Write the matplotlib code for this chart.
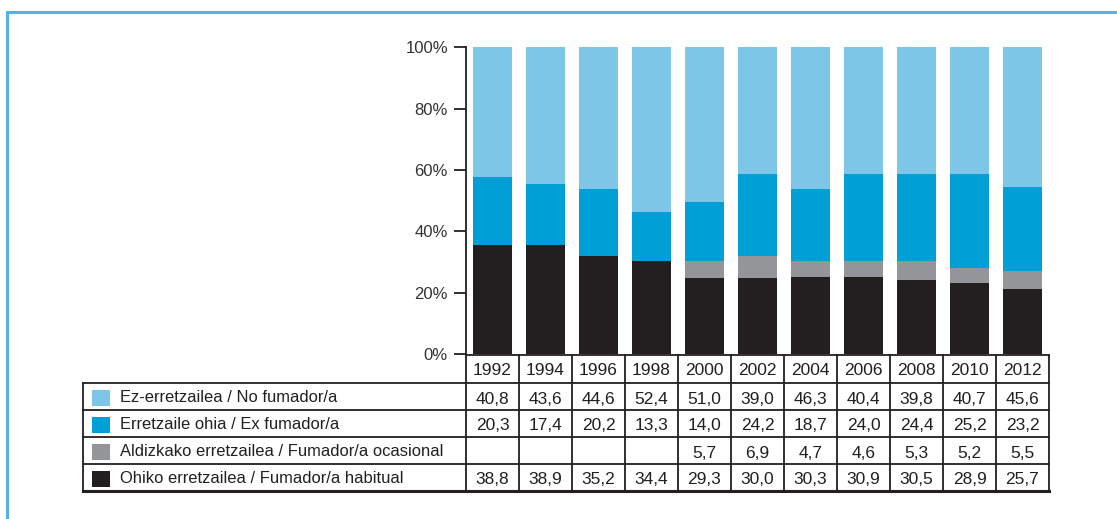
import numpy as np
import matplotlib
matplotlib.use("Agg")
import matplotlib.pyplot as plt
from matplotlib.patches import Rectangle

# years / table values (as printed in the table)
years = ["1992", "1994", "1996", "1998", "2000", "2002", "2004", "2006", "2008", "2010", "2012"]
no_fumador = ["40,8", "43,6", "44,6", "52,4", "51,0", "39,0", "46,3", "40,4", "39,8", "40,7", "45,6"]
ex_fumador = ["20,3", "17,4", "20,2", "13,3", "14,0", "24,2", "18,7", "24,0", "24,4", "25,2", "23,2"]
ocasional = ["", "", "", "", "5,7", "6,9", "4,7", "4,6", "5,3", "5,2", "5,5"]
habitual = ["38,8", "38,9", "35,2", "34,4", "29,3", "30,0", "30,3", "30,9", "30,5", "28,9", "25,7"]

# bar segment heights as drawn in the picture (%)
bar_habitual = [35.5, 35.5, 32.0, 30.2, 24.7, 24.7, 25.2, 25.2, 24.1, 23.0, 21.2]
bar_ocasional = [0.0, 0.0, 0.0, 0.0, 5.5, 7.3, 5.0, 5.0, 6.1, 5.2, 6.0]
bar_ex = [22.3, 19.9, 21.7, 16.2, 19.2, 26.6, 23.5, 28.4, 28.4, 30.4, 27.1]

labels = ["Ez-erretzailea / No fumador/a",
          "Erretzaile ohia / Ex fumador/a",
          "Aldizkako erretzailea / Fumador/a ocasional",
          "Ohiko erretzailea / Fumador/a habitual"]
colors = ["#7dc6e7", "#00a0d6", "#939598", "#231f20"]

W, H = 1117, 519
fig = plt.figure(figsize=(W / 100, H / 100), dpi=100)

# layout in pixels
x0, col_w = 466, 53.0
x_right = x0 + col_w * len(years)
y_zero, y_full = 354, 47.3
lab_left = 83
row_edges = [355, 383, 410, 437, 464, 491]

font = ["Liberation Sans", "DejaVu Sans"]
ink = "#231f20"

# bar chart
ax = fig.add_axes([x0 / W, 1 - y_zero / H, (x_right - x0) / W, (y_zero - y_full) / H])
xs = np.arange(len(years))
bar_no = 100 - np.array(bar_habitual) - np.array(bar_ocasional) - np.array(bar_ex)
bottom = np.zeros(len(years))
for vals, c in zip([bar_habitual, bar_ocasional, bar_ex, bar_no], colors[::-1]):
    ax.bar(xs, vals, bottom=bottom, width=0.72, color=c, linewidth=0)
    bottom += np.array(vals)
ax.set_xlim(-0.5, len(years) - 0.5)
ax.set_ylim(0, 100)
ax.set_yticks(range(0, 101, 20))
ax.set_yticklabels([f"{v}%" for v in range(0, 101, 20)], family=font, fontsize=12, color="#333333")
ax.set_xticks([])
for s in ["top", "right", "bottom"]:
    ax.spines[s].set_visible(False)
ax.spines["left"].set_linewidth(1.3)
ax.spines["left"].set_color(ink)
ax.tick_params(axis="y", length=9, width=1.3, color=ink, pad=4)

# overlay in pixel coordinates for table and frame
ov = fig.add_axes([0, 0, 1, 1], zorder=5)
ov.set_xlim(0, W)
ov.set_ylim(H, 0)
ov.axis("off")
ov.patch.set_alpha(0)

# outer frame
ov.plot([7, 7, W], [H, 11.5, 11.5], color="#55b2e4", lw=2.2, solid_joinstyle="miter")

lw = 1.3
# horizontal lines
ov.plot([x0, x_right], [row_edges[0], row_edges[0]], color=ink, lw=lw)
for y in row_edges[1:-1]:
    ov.plot([lab_left, x_right], [y, y], color=ink, lw=lw)
ov.plot([lab_left, x_right], [row_edges[-1], row_edges[-1]], color=ink, lw=2.2)
# vertical lines
ov.plot([lab_left, lab_left], [row_edges[1], row_edges[-1]], color=ink, lw=lw)
for i in range(len(years) + 1):
    xx = x0 + i * col_w
    ov.plot([xx, xx], [row_edges[0], row_edges[-1]], color=ink, lw=lw)

# header years
for i, yr in enumerate(years):
    ov.text(x0 + (i + 0.5) * col_w, (row_edges[0] + row_edges[1]) / 2 + 1.5, yr,
            ha="center", va="center", family=font, fontsize=12.5, color=ink)

rows = [no_fumador, ex_fumador, ocasional, habitual]
for r, (vals, lab, c) in enumerate(zip(rows, labels, colors)):
    ytop, ybot = row_edges[r + 1], row_edges[r + 2]
    yc = (ytop + ybot) / 2 + 1
    ov.add_patch(Rectangle((92, yc - 8), 18, 16, color=c, lw=0))
    ov.text(120, yc, lab, ha="left", va="center", family=font, fontsize=11.9, color=ink)
    for i, v in enumerate(vals):
        ov.text(x0 + (i + 0.5) * col_w, yc + 1.5, v, ha="center", va="center",
                family=font, fontsize=12.5, color=ink)

fig.savefig("out.png", dpi=100)
